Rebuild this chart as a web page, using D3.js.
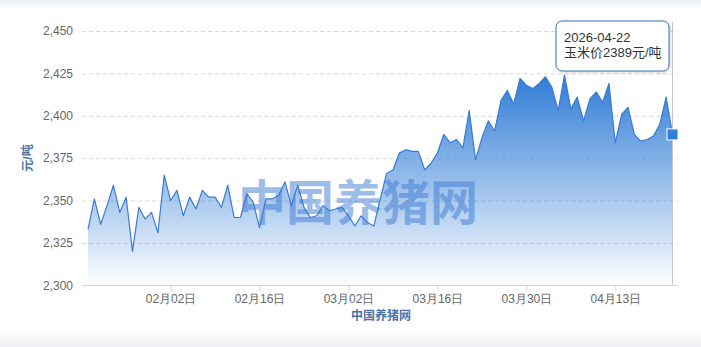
<!DOCTYPE html>
<html>
<head>
<meta charset="utf-8">
<script src="https://cdn.jsdelivr.net/npm/d3@7"></script>
<style>
  html, body { margin: 0; padding: 0; background: #fff; }
  svg { display: block; font-family: "Liberation Sans", Arial, "Noto Sans CJK SC", sans-serif; }
</style>
</head>
<body>
<svg width="701" height="347"></svg>
<script>
let width = 701;
let height = 347;

// daily corn price, 2026-01-20 .. 2026-04-22
let startDay = '2026-01-20';
let endDay = '2026-04-22';
let prices = [
  2333, 2351, 2336, 2347, 2359, 2343, 2352, 2320, 2346, 2339, 2343, 2331,
  2365, 2350, 2356, 2341, 2352, 2345, 2356, 2352, 2352, 2346, 2359, 2340, 2340, 2354,
  2349, 2334, 2351, 2351, 2353, 2361, 2347, 2359, 2346, 2340, 2341, 2347, 2344, 2345,
  2346, 2341, 2335, 2341, 2337, 2335, 2351, 2366, 2368, 2378, 2380, 2379, 2379, 2368,
  2372, 2378, 2389, 2384, 2386, 2381, 2403, 2374, 2387, 2397, 2391, 2409, 2415, 2407,
  2422, 2418, 2416,
  2419, 2423, 2417, 2403, 2424, 2404, 2411, 2397, 2410, 2414, 2408, 2419, 2384, 2401,
  2405, 2389, 2385, 2386, 2388, 2395, 2411, 2389
];
let xTickDays = ['2026-02-02', '2026-02-16', '2026-03-02', '2026-03-16', '2026-03-30', '2026-04-13'];
let yTicks = [2300, 2325, 2350, 2375, 2400, 2425, 2450];
let seriesName = '玉米价';
let unit = '元/吨';
let siteName = '中国养猪网';

let parse = d3.timeParse('%Y-%m-%d');
let days = d3.timeDay.range(parse(startDay), d3.timeDay.offset(parse(endDay), 1));
let data = days.map((d, i) => ({ date: d, value: prices[i] }));

let x = d3.scaleTime()
  .domain([parse(startDay), parse(endDay)])
  .range([88, 672.5]);

let y = d3.scaleLinear()
  .domain([2300, 2450])
  .range([285.3, 31]);

let svg = d3.select('svg');

// faint card edge
let defs = svg.append('defs');
let edge = defs.append('linearGradient').attr('id', 'edge').attr('x1', 0).attr('y1', 0).attr('x2', 0).attr('y2', 1);
edge.append('stop').attr('offset', 0).attr('stop-color', '#eceef1');
edge.append('stop').attr('offset', 0.03).attr('stop-color', '#fff');
edge.append('stop').attr('offset', 0.95).attr('stop-color', '#fff');
edge.append('stop').attr('offset', 1).attr('stop-color', '#eef0f3');
svg.append('rect').attr('width', width).attr('height', height).attr('fill', 'url(#edge)');

let fill = defs.append('linearGradient').attr('id', 'fill').attr('x1', 0).attr('y1', 0).attr('x2', 0).attr('y2', 1);
fill.append('stop').attr('offset', 0).attr('stop-color', '#2f7cd6').attr('stop-opacity', 1);
fill.append('stop').attr('offset', 1).attr('stop-color', '#2f7cd6').attr('stop-opacity', 0.01);

let shadow = defs.append('filter').attr('id', 'shadow').attr('x', -0.2).attr('y', -0.2).attr('width', 1.4).attr('height', 1.6);
shadow.append('feDropShadow').attr('dx', 1).attr('dy', 1).attr('stdDeviation', 1.5)
  .attr('flood-color', '#000').attr('flood-opacity', 0.18);

// grid + y labels
let yAxis = svg.append('g')
  .attr('transform', 'translate(82,0)')
  .call(d3.axisLeft(y).tickValues(yTicks).tickSize(-596).tickPadding(9).tickFormat(d3.format(',')));
yAxis.select('.domain').remove();
yAxis.selectAll('line')
  .attr('stroke', '#d9d9d9')
  .attr('stroke-dasharray', '4,3')
  .attr('display', d => d === 2300 ? 'none' : null);
yAxis.selectAll('text')
  .attr('fill', '#666')
  .attr('font-size', 12)
  .attr('font-family', '"Liberation Sans", Arial, sans-serif');

// area + line
svg.append('path')
  .datum(data)
  .attr('fill', 'url(#fill)')
  .attr('d', d3.area().x(d => x(d.date)).y0(y(2300)).y1(d => y(d.value)));

// x axis
svg.append('line')
  .attr('x1', 82).attr('x2', 678)
  .attr('y1', 285.5).attr('y2', 285.5)
  .attr('stroke', '#ccd6eb');

let xAxis = svg.append('g')
  .attr('transform', 'translate(0,285.5)')
  .call(d3.axisBottom(x).tickValues(xTickDays.map(parse)).tickSize(6).tickPadding(3).tickFormat(d3.timeFormat('%m月%d日')));
xAxis.select('.domain').remove();
xAxis.selectAll('line').attr('stroke', '#ccd6eb');
xAxis.selectAll('text').attr('fill', '#666').attr('font-size', 12);

// watermark
svg.append('text')
  .attr('x', 358).attr('y', 220)
  .attr('text-anchor', 'middle')
  .attr('font-size', 48)
  .attr('font-weight', 'bold')
  .attr('font-family', '"Noto Sans CJK SC", sans-serif')
  .attr('fill', '#3d7ad2')
  .attr('fill-opacity', 0.5)
  .text(siteName);

svg.append('path')
  .datum(data)
  .attr('fill', 'none')
  .attr('stroke', '#3a7bd4')
  .attr('stroke-width', 1.2)
  .attr('stroke-linejoin', 'round')
  .attr('d', d3.line().x(d => x(d.date)).y(d => y(d.value)));

// crosshair + marker on last point
let last = data[data.length - 1];
svg.append('line')
  .attr('x1', x(last.date)).attr('x2', x(last.date))
  .attr('y1', 22).attr('y2', 285)
  .attr('stroke', '#c8c8c8');

svg.append('rect')
  .attr('x', x(last.date) - 5.5).attr('y', y(last.value) - 5.5)
  .attr('width', 11).attr('height', 11)
  .attr('fill', '#2f7fd8')
  .attr('stroke', '#fff')
  .attr('stroke-width', 1);

// axis titles
svg.append('text')
  .attr('transform', 'translate(32,158) rotate(-90)')
  .attr('text-anchor', 'middle')
  .attr('font-size', 12)
  .attr('font-weight', 'bold')
  .attr('fill', '#4d74a8')
  .text(unit);

svg.append('text')
  .attr('x', 381).attr('y', 320)
  .attr('text-anchor', 'middle')
  .attr('font-size', 12)
  .attr('font-weight', 'bold')
  .attr('fill', '#4d74a8')
  .text(siteName);

// tooltip
let tip = svg.append('g').attr('transform', 'translate(556,21)');
tip.append('rect')
  .attr('width', 113).attr('height', 50)
  .attr('rx', 6)
  .attr('fill', '#fff')
  .attr('stroke', '#3f72b0')
  .attr('filter', 'url(#shadow)');
tip.append('text')
  .attr('x', 8).attr('y', 21)
  .attr('font-size', 13).attr('fill', '#333')
  .text(d3.timeFormat('%Y-%m-%d')(last.date));
tip.append('text')
  .attr('x', 8).attr('y', 36)
  .attr('font-size', 13).attr('fill', '#333')
  .text(seriesName + last.value + unit);
</script>
</body>
</html>
